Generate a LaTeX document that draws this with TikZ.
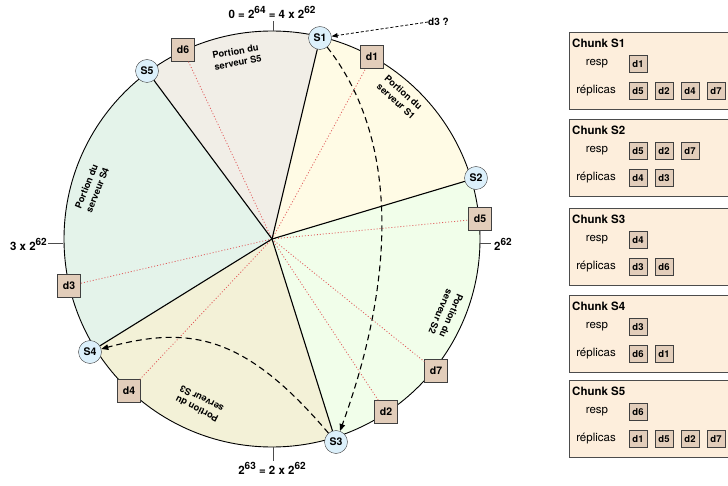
\documentclass[tikz,border=0pt]{standalone}
\usepackage{fontspec}
\setmainfont{TeX Gyre Heros}
\usetikzlibrary{arrows.meta,calc}
\definecolor{srvblue}{HTML}{DCF0FB}
\definecolor{datfill}{HTML}{E2CDBA}
\definecolor{chunkfill}{HTML}{FDEEDC}
\definecolor{secA}{HTML}{F1EEE7}
\definecolor{secB}{HTML}{FFFBE5}
\definecolor{secC}{HTML}{F1FEEA}
\definecolor{secD}{HTML}{F3F1D7}
\definecolor{secE}{HTML}{E4F3EA}
\definecolor{reddot}{HTML}{E05A5A}
\newcommand\myup[1]{\raisebox{0.8ex}{\fontsize{10}{10}\selectfont #1}}
\begin{document}
\begin{tikzpicture}[x=1pt,y=-1pt,
  srv/.style={circle,draw=black!75,fill=srvblue,minimum size=23pt,inner sep=0pt,font=\fontsize{10.5}{11}\selectfont\bfseries},
  dat/.style={rectangle,draw=black!75,fill=datfill,minimum size=23pt,inner sep=0pt,font=\fontsize{10.5}{11}\selectfont\bfseries},
  sdat/.style={rectangle,draw=black!75,fill=datfill,minimum width=18pt,minimum height=17pt,inner sep=0pt,font=\fontsize{9.5}{10}\selectfont\bfseries},
  chunkbox/.style={rectangle,draw=black!70,fill=chunkfill,anchor=north west,minimum width=175pt,minimum height=77pt,inner sep=0pt},
  ctitle/.style={anchor=west,inner sep=0pt,font=\fontsize{11.5}{12}\selectfont\bfseries},
  clab/.style={inner sep=0pt,font=\fontsize{11.5}{12}\selectfont},
  seclab/.style={align=left,inner sep=0pt,font=\fontsize{9.3}{11.5}\selectfont\bfseries},
  axlab/.style={inner sep=0pt,font=\fontsize{11.5}{12}\selectfont\bfseries},
  rim/.style={draw=black,line width=0.9pt},
  bound/.style={draw=black,line width=1.1pt},
  tick/.style={draw=black!70,line width=0.9pt},
  rdot/.style={draw=reddot,line width=0.8pt,dash pattern=on 1pt off 2pt},
  dasharr/.style={draw=black,line width=1.1pt,dash pattern=on 6pt off 4pt,-{Triangle[length=7pt,width=5.5pt]}},
  qarr/.style={draw=black,line width=0.8pt,dash pattern=on 3pt off 2pt,-{Triangle[length=6pt,width=4.5pt]}}
]
\useasboundingbox (0,0) rectangle (728,486);
\coordinate (C) at (272,239);
\coordinate (p1) at (320,38);
\coordinate (p2) at (476,178);
\coordinate (p3) at (336,442);
\coordinate (p4) at (90,352);
\coordinate (p5) at (147,71);
% sectors
\begin{scope}
\clip (C) circle[radius=208];
\fill[secA] (C) -- ($(C)!5!(p5)$) -- ($(C)!5!(p1)$) -- cycle;
\fill[secB] (C) -- ($(C)!5!(p1)$) -- ($(C)!5!(p2)$) -- cycle;
\fill[secC] (C) -- ($(C)!5!(p2)$) -- ($(C)!5!(p3)$) -- cycle;
\fill[secD] (C) -- ($(C)!5!(p3)$) -- ($(C)!5!(p4)$) -- cycle;
\fill[secE] (C) -- ($(C)!5!(p4)$) -- ($(C)!5!(p5)$) -- cycle;
\end{scope}
\draw[rim] (C) circle[radius=208];
% ticks
\coordinate (tt1) at (273,31); \coordinate (tt2) at (273,21);
\coordinate (tb1) at (273,447); \coordinate (tb2) at (273,461);
\coordinate (tl1) at (63,243); \coordinate (tl2) at (48,243);
\coordinate (tr1) at (480,243); \coordinate (tr2) at (491,243);
\draw[tick] (tt1) -- (tt2);
\draw[tick] (tb1) -- (tb2);
\draw[tick] (tl1) -- (tl2);
\draw[tick] (tr1) -- (tr2);
\node[axlab] (lt) at (272,12) {0 = 2\myup{64} = 4 x 2\myup{62}};
\node[axlab,anchor=west] (lr) at (494,244) {2\myup{62}};
\node[axlab,anchor=east] (ll) at (47,244) {3 x 2\myup{62}};
\node[axlab] (lb) at (272,468) {2\myup{63} = 2 x 2\myup{62}};
% sector labels
\node[seclab,rotate=10] (l5) at (237,57) {Portion du\\serveur S5};
\node[seclab,rotate=-42] (l1) at (400,97) {Portion du\\serveur S1};
\node[seclab,rotate=-113] (l2) at (446,314) {Portion du\\serveur S2};
\node[seclab,rotate=153] (l3) at (199,404) {Portion du\\serveur S3};
\node[seclab,rotate=68] (l4) at (92,188) {Portion du\\serveur S4};
% data on ring
\node[dat] (dd1) at (372,57) {d1};
\node[dat] (dd5) at (480,219) {d5};
\node[dat] (dd7) at (436,371) {d7};
\node[dat] (dd2) at (386,412) {d2};
\node[dat] (dd4) at (129,391) {d4};
\node[dat] (dd3) at (69,286) {d3};
\node[dat] (dd6) at (183,50) {d6};
% boundaries and dotted lines
\draw[rdot] (C) -- (dd1);
\draw[rdot] (C) -- (dd2);
\draw[rdot] (C) -- (dd3);
\draw[rdot] (C) -- (dd4);
\draw[rdot] (C) -- (dd5);
\draw[rdot] (C) -- (dd6);
\draw[rdot] (C) -- (dd7);
% servers
\node[srv] (S1) at (p1) {S1};
\node[srv] (S2) at (p2) {S2};
\node[srv] (S3) at (p3) {S3};
\node[srv] (S4) at (p4) {S4};
\node[srv] (S5) at (p5) {S5};
\draw[bound] (C) -- (S1);
\draw[bound] (C) -- (S2);
\draw[bound] (C) -- (S3);
\draw[bound] (C) -- (S4);
\draw[bound] (C) -- (S5);
% arrows
\draw[dasharr] (S1) .. controls (400,140) and (395,280) .. (S3);
\draw[dasharr] (S3) .. controls (245,335) and (190,325) .. (S4);
\node[anchor=west,inner sep=0pt,font=\fontsize{10}{11}\selectfont\bfseries] (q) at (428,22) {d3 ?};
\draw[qarr] (q.west) -- (S1);
% chunk panel
\node[chunkbox] (ch1) at (569,32) {};
\node[ctitle] (ch1t) at (572,43) {Chunk S1};
\node[clab] (ch1r) at (597,64) {resp};
\node[clab] (ch1p) at (596,91) {réplicas};
\node[sdat] (c1a) at (638,64) {d1};
\node[sdat] (c1b) at (638,91) {d5};
\node[sdat] (c1c) at (664,91) {d2};
\node[sdat] (c1d) at (690,91) {d4};
\node[sdat] (c1e) at (716,91) {d7};

\node[chunkbox] (ch2) at (569,119) {};
\node[ctitle] (ch2t) at (572,130) {Chunk S2};
\node[clab] (ch2r) at (597,151) {resp};
\node[clab] (ch2p) at (596,178) {réplicas};
\node[sdat] (c2a) at (638,151) {d5};
\node[sdat] (c2b) at (664,151) {d2};
\node[sdat] (c2c) at (690,151) {d7};
\node[sdat] (c2d) at (638,178) {d4};
\node[sdat] (c2e) at (664,178) {d3};

\node[chunkbox] (ch3) at (569,208) {};
\node[ctitle] (ch3t) at (572,219) {Chunk S3};
\node[clab] (ch3r) at (597,240) {resp};
\node[clab] (ch3p) at (596,267) {réplicas};
\node[sdat] (c3a) at (638,240) {d4};
\node[sdat] (c3b) at (638,267) {d3};
\node[sdat] (c3c) at (664,267) {d6};

\node[chunkbox] (ch4) at (569,295) {};
\node[ctitle] (ch4t) at (572,306) {Chunk S4};
\node[clab] (ch4r) at (597,327) {resp};
\node[clab] (ch4p) at (596,354) {réplicas};
\node[sdat] (c4a) at (638,327) {d3};
\node[sdat] (c4b) at (638,354) {d6};
\node[sdat] (c4c) at (664,354) {d1};

\node[chunkbox] (ch5) at (569,380) {};
\node[ctitle] (ch5t) at (572,391) {Chunk S5};
\node[clab] (ch5r) at (597,412) {resp};
\node[clab] (ch5p) at (596,439) {réplicas};
\node[sdat] (c5a) at (638,412) {d6};
\node[sdat] (c5b) at (638,439) {d1};
\node[sdat] (c5c) at (664,439) {d5};
\node[sdat] (c5d) at (690,439) {d2};
\node[sdat] (c5e) at (716,439) {d7};
\end{tikzpicture}
\end{document}
